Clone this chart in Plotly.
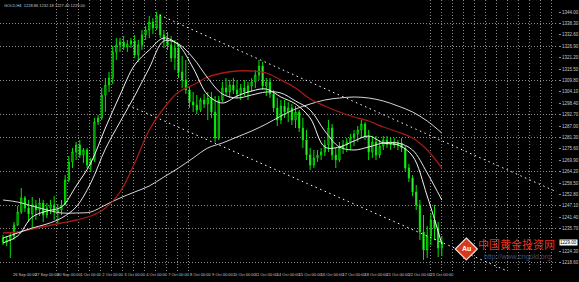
import plotly.graph_objects as go

# ---- GOLD H4 bars -------------------------------------------------------
bar_index = list(range(121))
open_ = [1231, 1229, 1230, 1232, 1237.5, 1244, 1251, 1246, 1243, 1247.5,
         1245, 1248.5, 1242.5, 1246, 1247.5, 1244, 1245, 1247.5, 1260, 1269,
         1274, 1277.5, 1272.5, 1275, 1267.5, 1270, 1289, 1291, 1302.5, 1307.5,
         1311, 1324, 1327.5, 1329, 1326.5, 1328, 1329.5, 1322.5, 1327.5, 1332.5,
         1335, 1339, 1336, 1342, 1332.5, 1330, 1327.5, 1321, 1326, 1314,
         1310, 1305, 1299, 1297.5, 1295, 1300, 1298, 1301, 1294, 1281,
         1300, 1306, 1304, 1307.5, 1305, 1303, 1306, 1304, 1307, 1309,
         1312.5, 1317, 1307, 1309, 1303, 1296, 1290, 1297, 1294, 1296,
         1290, 1294, 1286, 1280, 1272.5, 1267.5, 1271, 1272.5, 1274, 1277.5,
         1286, 1272.5, 1270, 1276, 1277.5, 1279, 1281, 1283, 1285, 1288,
         1282, 1274, 1279, 1272.5, 1277, 1280, 1278, 1279, 1277.5, 1278.5,
         1276, 1266, 1261, 1254, 1247.5, 1234, 1225, 1232, 1240, 1236,
         1226]
high = [1232.5, 1232, 1234, 1239, 1247, 1256, 1252, 1250, 1251.5, 1250,
        1251, 1250, 1248.5, 1250, 1252, 1248, 1250, 1262.5, 1272, 1276,
        1279, 1280, 1276, 1276, 1271, 1291, 1292.5, 1306, 1311, 1314,
        1327, 1331, 1331, 1332, 1330, 1331, 1332.5, 1330, 1335, 1337,
        1342, 1341, 1344, 1343, 1335, 1334, 1332, 1330, 1328, 1322,
        1320, 1307, 1304, 1302.5, 1301, 1303, 1304, 1304, 1302, 1302,
        1309, 1311, 1310, 1311, 1310, 1308, 1310, 1309, 1311, 1315,
        1320, 1319, 1311, 1311, 1305, 1301, 1300, 1300, 1299, 1298,
        1297, 1295, 1291, 1285, 1276, 1275, 1275, 1276, 1280, 1290,
        1288, 1276, 1279, 1280, 1281, 1283, 1285, 1287, 1290, 1289,
        1285, 1282, 1282, 1280, 1282, 1282, 1281, 1281, 1280, 1281,
        1277, 1268, 1262.5, 1257.5, 1250, 1242.5, 1237, 1243, 1247.5, 1239,
        1232]
low = [1227.5, 1227, 1221, 1230, 1237, 1243, 1244, 1239, 1236, 1240,
       1242, 1239, 1241, 1243, 1240, 1238, 1242.5, 1247.5, 1259, 1266,
       1270, 1271, 1268.5, 1266, 1264, 1269, 1287.5, 1290, 1294, 1304,
       1308, 1320, 1324, 1325, 1324, 1326, 1321, 1319, 1325, 1330,
       1331, 1333, 1335, 1331, 1326, 1325, 1319, 1315, 1311, 1306,
       1303, 1296, 1294, 1293, 1294, 1296, 1290, 1291, 1279, 1280,
       1299, 1302, 1301, 1303, 1301, 1300, 1302, 1300, 1304, 1306,
       1310, 1305, 1302, 1301, 1294, 1287, 1288, 1291, 1289, 1287.5,
       1286, 1284, 1276, 1270, 1265, 1266, 1269, 1270, 1272, 1274,
       1270, 1266, 1269, 1273, 1274, 1275, 1277, 1279, 1281, 1280,
       1270, 1271, 1270, 1271, 1275, 1276, 1275, 1276, 1275, 1274,
       1264, 1259, 1252, 1245, 1230, 1220, 1221, 1227.5, 1230, 1221.5,
       1222]
close = [1229, 1230, 1232, 1237.5, 1244, 1251, 1246, 1243, 1247.5, 1245,
         1248.5, 1242.5, 1246, 1247.5, 1244, 1245, 1247.5, 1260, 1269, 1274,
         1277.5, 1272.5, 1275, 1267.5, 1270, 1289, 1291, 1302.5, 1307.5, 1311,
         1324, 1327.5, 1329, 1326.5, 1328, 1329.5, 1322.5, 1327.5, 1332.5, 1335,
         1339, 1336, 1342, 1332.5, 1330, 1327.5, 1321, 1326, 1314, 1310,
         1305, 1299, 1297.5, 1295, 1300, 1298, 1301, 1294, 1281, 1300,
         1306, 1304, 1307.5, 1305, 1303, 1306, 1304, 1307, 1309, 1312.5,
         1317, 1307, 1309, 1303, 1296, 1290, 1297, 1294, 1296, 1290,
         1294, 1286, 1280, 1272.5, 1267.5, 1271, 1272.5, 1274, 1277.5, 1286,
         1272.5, 1270, 1276, 1277.5, 1279, 1281, 1283, 1285, 1288, 1282,
         1274, 1279, 1272.5, 1277, 1280, 1278, 1279, 1277.5, 1278.5, 1276,
         1266, 1261, 1254, 1247.5, 1234, 1225, 1232, 1240, 1236, 1226,
         1229]

# ---- moving averages, sampled every 4 bars ------------------------------
ma_index = list(range(0, 121, 4))
ma_fast = [1228.5, 1232, 1241.5, 1244.5, 1246.5, 1257, 1268.5, 1286, 1302.5, 1317.5,
           1325, 1331, 1327.5, 1316, 1302.5, 1298.5, 1302, 1304.5, 1305.5, 1301.5,
           1298, 1291, 1276.5, 1276.5, 1279.5, 1282, 1278.5, 1277.5, 1272, 1252,
           1228]
ma_mid = [1231, 1233.5, 1236, 1238, 1241, 1246.5, 1258.5, 1275.5, 1289, 1302,
          1316, 1329.5, 1328, 1321, 1311, 1303, 1301, 1302.5, 1304, 1303.5,
          1299.5, 1295, 1284.5, 1276.5, 1275, 1276.5, 1278.5, 1278.5, 1275, 1263.5,
          1250]
ma_red = [1233.5, 1234, 1235.5, 1237, 1238.5, 1240, 1242, 1246, 1254, 1268.5,
          1285, 1296, 1304, 1307.5, 1311.5, 1313.5, 1314.5, 1314.5, 1313.5, 1310,
          1306, 1300.5, 1297, 1294, 1291.5, 1289.5, 1286.5, 1284, 1281, 1275,
          1266]
ma_slow = [1250, 1249, 1247, 1245, 1243.5, 1243.5, 1244, 1247.5, 1251, 1254,
           1257, 1261.5, 1266, 1271, 1276, 1278.5, 1281.5, 1284.5, 1288, 1292,
           1295.5, 1298, 1300, 1301, 1301.5, 1301, 1299.5, 1297, 1294, 1289.5,
           1283.5]

# ---- channel lines (bar index, price) -----------------------------------
upper_chan_x = [42.8, 151.5]
upper_chan_y = [1342.5, 1254.0]
lower_chan_x = [34.1, 141.0]
lower_chan_y = [1297.5, 1212.0]

# ---- axis labels / grid ---------------------------------------------------
# (the level hidden behind the bid marker is left out, as the terminal does)
price_ticks = [1344.0, 1338.3, 1332.6, 1326.9, 1321.2, 1315.5, 1309.8, 1304.1,
               1298.4, 1292.7, 1287.0, 1281.3, 1275.6, 1269.9, 1264.2, 1258.5,
               1252.8, 1247.1, 1241.4, 1235.7, 1224.3, 1218.6]
price_labels = ["1344.00", "1338.30", "1332.60", "1326.90", "1321.20", "1315.50",
                "1309.80", "1304.10", "1298.40", "1292.70", "1287.00", "1281.30",
                "1275.60", "1269.90", "1264.20", "1258.50", "1252.80", "1247.10",
                "1241.40", "1235.70", "1224.30", "1218.60"]
price_grid = [1338.3, 1326.9, 1309.8, 1292.7, 1281.3, 1264.2, 1247.1, 1235.7, 1218.6]
time_grid = [14.7, 17.7, 20.7, 23.7, 26.7, 29.7, 32.7, 35.7, 38.7, 41.7, 44.7, 47.7, 50.7,
             116.9, 119.9, 122.9, 125.9, 128.9, 131.9, 134.9, 137.9, 140.9, 143.9,
             146.9, 149.9]
time_ticks = list(range(0, 121, 6))
time_labels = ["25 Sep 2013", "26 Sep 00:00", "27 Sep 00:00", "30 Sep 00:00",
               "1 Oct 00:00", "2 Oct 00:00", "3 Oct 00:00", "4 Oct 00:00",
               "7 Oct 00:00", "8 Oct 00:00", "9 Oct 00:00", "10 Oct 00:00",
               "11 Oct 00:00", "14 Oct 00:00", "15 Oct 00:00", "16 Oct 00:00",
               "17 Oct 00:00", "18 Oct 00:00", "21 Oct 00:00", "22 Oct 00:00",
               "23 Oct 00:00"]
last_price = close[-1]

X_RANGE = [-0.817, 151.77]
Y_RANGE = [1214.5, 1350.0]
GRID = "#8c8c8c"
LABEL = "#c8c8c8"

fig = go.Figure()

fig.add_trace(go.Candlestick(
    x=bar_index, open=open_, high=high, low=low, close=close,
    increasing=dict(line=dict(color="#00e600", width=1), fillcolor="#000000"),
    decreasing=dict(line=dict(color="#00e600", width=1), fillcolor="#c8f5c8"),
    whiskerwidth=0, showlegend=False, hoverinfo="skip"))

for xs, ys in ((upper_chan_x, upper_chan_y), (lower_chan_x, lower_chan_y)):
    fig.add_trace(go.Scatter(x=xs, y=ys, mode="lines",
                             line=dict(color="#ffffff", width=1, dash="1.5px,3.5px"),
                             showlegend=False, hoverinfo="skip"))

for ys, col, w in ((ma_slow, "rgba(235,235,235,0.9)", 1),
                   (ma_red, "#a51a16", 1.3),
                   (ma_mid, "rgba(240,240,240,0.95)", 1),
                   (ma_fast, "rgba(255,255,255,0.95)", 1)):
    fig.add_trace(go.Scatter(x=ma_index, y=ys, mode="lines",
                             line=dict(color=col, width=w, shape="spline", smoothing=1.0),
                             showlegend=False, hoverinfo="skip"))

# invisible trace so the overlay axes (labels) are drawn
fig.add_trace(go.Scatter(x=[0], y=[1300], xaxis="x2", yaxis="y2", mode="markers",
                         marker=dict(opacity=0), showlegend=False, hoverinfo="skip"))

fig.update_layout(
    width=579, height=282, autosize=False,
    margin=dict(l=0, r=19, t=0, b=11),
    paper_bgcolor="#000000", plot_bgcolor="#000000",
    font=dict(family="Liberation Sans", color=LABEL),
    boxgap=0.55,
    xaxis=dict(range=X_RANGE, tickvals=time_grid, showticklabels=False, ticks="",
               showgrid=True, gridcolor=GRID, gridwidth=1, griddash="1px,2px",
               zeroline=False, showline=False, rangeslider=dict(visible=False),
               fixedrange=True),
    xaxis2=dict(range=X_RANGE, overlaying="x", anchor="y", side="bottom",
                tickvals=time_ticks, ticktext=time_labels, showgrid=False,
                zeroline=False, ticks="", tickfont=dict(size=4, color=LABEL),
                tickangle=0),
    yaxis=dict(range=Y_RANGE, tickvals=price_grid, showticklabels=False, ticks="",
               showgrid=True, gridcolor=GRID, gridwidth=1, griddash="1px,2px",
               zeroline=False, showline=False, fixedrange=True),
    yaxis2=dict(range=Y_RANGE, overlaying="y", side="right", anchor="x",
                tickvals=price_ticks, ticktext=price_labels, showgrid=False,
                zeroline=False, ticks="outside", ticklen=2, tickcolor="#909090",
                tickfont=dict(size=4.5, color=LABEL)),
    showlegend=False,
)

# symbol / OHLC header
fig.add_annotation(xref="paper", yref="paper", x=0.004, y=0.998, xanchor="left",
                   yanchor="top", showarrow=False,
                   text="GOLD,H4  1228.86 1232.18 1227.40 1229.00",
                   font=dict(size=4, color=LABEL))

# bid price marker on the price scale
fig.add_annotation(xref="paper", yref="y", x=1.002, y=last_price, xanchor="left",
                   yanchor="middle", showarrow=False, text=f"{last_price:.2f}",
                   bgcolor="#ffffff", borderpad=0,
                   font=dict(size=4.5, color="#000000"))

# site logo and watermark
fig.add_shape(type="path", xref="paper", yref="paper", xsizemode="pixel",
              ysizemode="pixel", xanchor=0.8357, yanchor=0.0812,
              path="M 0,11 L 11,0 L 0,-11 L -11,0 Z",
              fillcolor="#d8381e", line=dict(color="#f0e0d0", width=1.2))
fig.add_annotation(xref="paper", yref="paper", x=0.8357, y=0.0812, xanchor="center",
                   yanchor="middle", showarrow=False,
                   text="<b>Au</b>", font=dict(size=7, color="#ffffff"))
fig.add_annotation(xref="paper", yref="paper", x=0.925, y=0.1, xanchor="center",
                   yanchor="middle", showarrow=False,
                   text="中国黄金投资网",
                   font=dict(family="Noto Sans CJK SC", size=11, color="#e0321f"))
fig.add_annotation(xref="paper", yref="paper", x=0.928, y=0.052, xanchor="center",
                   yanchor="middle", showarrow=False,
                   text="http://www.cngold.org",
                   font=dict(family="Liberation Sans", size=7, color="#4a4e68"))

fig.write_html("out.html")
